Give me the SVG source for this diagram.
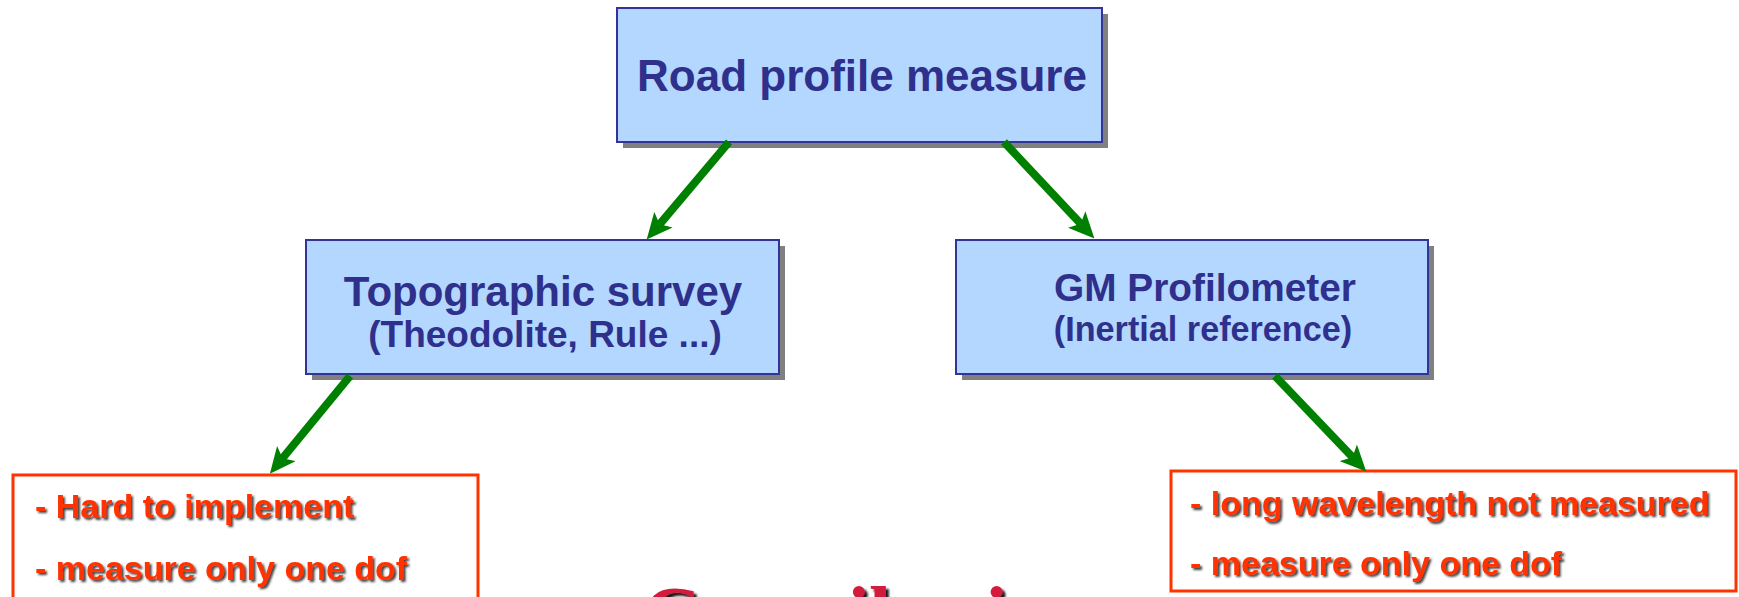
<svg xmlns="http://www.w3.org/2000/svg" width="1739" height="597" viewBox="0 0 1739 597">
<style>
.box{fill:#B3D7FF;stroke:#333399;stroke-width:2}
.shadow{fill:#808080}
.ttl{font-family:"Liberation Sans",Arial,sans-serif;font-weight:bold;fill:#2F2F8C}
.note{fill:#FFFFFF;stroke:#FF3300;stroke-width:3}
.ntxt{font-family:"Liberation Sans",Arial,sans-serif;font-weight:bold;font-size:34px;fill:#FF3300;filter:url(#ts)}
.conn{stroke:#008000;stroke-width:8;fill:none;marker-end:url(#ah)}
</style>
<defs>
<marker id="ah" markerUnits="userSpaceOnUse" markerWidth="26" markerHeight="24" refX="8" refY="12" orient="auto">
<path d="M0,0 L26,12 L0,24 L6,12 z" fill="#008000"/>
</marker>
<filter id="ts" x="-5%" y="-20%" width="115%" height="150%">
<feDropShadow dx="2" dy="2" stdDeviation="0.8" flood-color="#222222" flood-opacity="0.85"/>
</filter>
<filter id="ts2" x="-5%" y="-20%" width="115%" height="150%">
<feDropShadow dx="3" dy="3" stdDeviation="0.8" flood-color="#000000" flood-opacity="0.9"/>
</filter>
</defs>
<rect width="1739" height="597" fill="#FFFFFF"/>

<g id="title-text">
<text x="643" y="642" font-family="'Liberation Serif','Times New Roman',serif" font-weight="bold" font-size="80" fill="#D21F3C" filter="url(#ts2)">Contribution</text>
</g>

<g id="node-road">
<rect class="shadow" x="623" y="14" width="485" height="134"/>
<rect class="box" x="617" y="8" width="485" height="134"/>
<text class="ttl" x="862" y="91" font-size="44" text-anchor="middle">Road profile measure</text>
</g>

<g id="node-topo">
<rect class="shadow" x="312" y="246" width="473" height="134"/>
<rect class="box" x="306" y="240" width="473" height="134"/>
<text class="ttl" x="543" y="306" font-size="42" text-anchor="middle">Topographic survey</text>
<text class="ttl" x="545" y="347" font-size="37" text-anchor="middle">(Theodolite, Rule ...)</text>
</g>

<g id="node-gm">
<rect class="shadow" x="962" y="246" width="472" height="134"/>
<rect class="box" x="956" y="240" width="472" height="134"/>
<text class="ttl" x="1205" y="301" font-size="38.8" text-anchor="middle">GM Profilometer</text>
<text class="ttl" x="1203" y="341" font-size="34.2" text-anchor="middle">(Inertial reference)</text>
</g>

<g id="note-left">
<rect class="note" x="13" y="475" width="465" height="130"/>
<text class="ntxt" x="35" y="518">- Hard to implement</text>
<text class="ntxt" x="35" y="580">- measure only one dof</text>
</g>

<g id="note-right">
<rect class="note" x="1171" y="471" width="565" height="120"/>
<text class="ntxt" x="1190" y="515">- long wavelength not measured</text>
<text class="ntxt" x="1190" y="575">- measure only one dof</text>
</g>

<g id="connectors">
<line class="conn" x1="729" y1="142" x2="658.3" y2="225.8"/>
<line class="conn" x1="1004" y1="142" x2="1082.1" y2="225.3"/>
<line class="conn" x1="350" y1="376" x2="281.3" y2="459.8"/>
<line class="conn" x1="1275" y1="376" x2="1353.8" y2="458.6"/>
</g>
</svg>
